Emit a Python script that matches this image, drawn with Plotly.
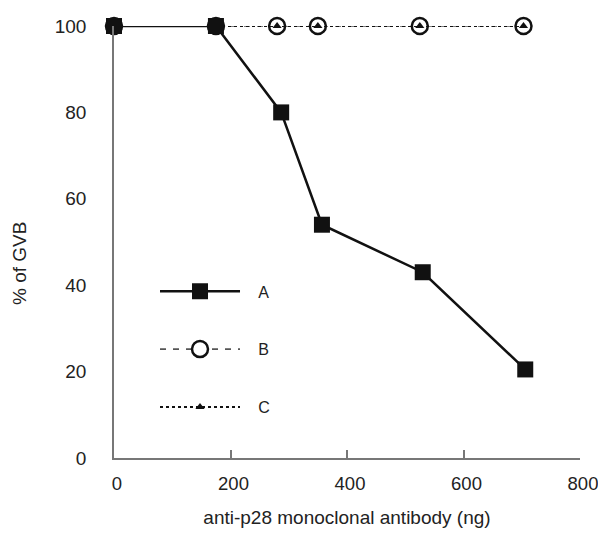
import plotly.graph_objects as go

# Data
x_a = [0, 175, 287, 357, 530, 706]
y_a = [100, 100, 80, 54, 43, 20.5]

x_b = [0, 175, 280, 350, 525, 703]
y_b = [100, 100, 100, 100, 100, 100]

x_c = [0, 175, 280, 350, 525, 703]
y_c = [100, 100, 100, 100, 100, 100]

x_ticks = [0, 200, 400, 600, 800]
y_ticks = [0, 20, 40, 60, 80, 100]

FONT = "Liberation Sans, Arial, sans-serif"
NB = "\u00a0\u00a0\u00a0"

fig = go.Figure()

fig.add_trace(go.Scatter(
    x=x_b, y=y_b, name=NB + "B", mode="lines+markers",
    line=dict(color="#555", width=1.6, dash="6px,7px"),
    marker=dict(symbol="circle", size=16, color="white",
                line=dict(color="#111", width=2.5)),
    cliponaxis=False, legendrank=2, legendgroup="B",
))
fig.add_trace(go.Scatter(
    x=x_c, y=y_c, name=NB + "C", mode="lines+markers",
    line=dict(color="#111", width=2, dash="dot"),
    marker=dict(symbol="triangle-up", size=8, color="#111"),
    cliponaxis=False, legendrank=3, legendgroup="C",
))
fig.add_trace(go.Scatter(
    x=x_a, y=y_a, name=NB + "A", mode="lines+markers",
    line=dict(color="#111", width=2.5),
    marker=dict(symbol="square", size=16, color="#111"),
    cliponaxis=False, legendrank=1, legendgroup="A",
))

fig.update_layout(
    width=598, height=536,
    margin=dict(l=114, r=18, t=26, b=78),
    paper_bgcolor="white", plot_bgcolor="white",
    font=dict(family=FONT, size=19, color="#222"),
    showlegend=True,
    legend=dict(
        x=0.088, y=0.425, xanchor="left", yanchor="top",
        itemwidth=80, tracegroupgap=34,
        bgcolor="rgba(0,0,0,0)", font=dict(size=16),
    ),
    xaxis=dict(
        range=[0, 800], tickvals=x_ticks, ticks="inside", ticklen=8,
        tickcolor="#777", tickwidth=1.5, tickfont=dict(size=18.5),
        showline=True, linecolor="#777", linewidth=1.5,
        showgrid=False, zeroline=False, ticklabelstandoff=8,
        ticklabelshift=3, ticklabeloverflow="allow", automargin=False,
        title=dict(text="anti-p28 monoclonal antibody (ng)",
                   font=dict(size=19), standoff=18),
    ),
    yaxis=dict(
        range=[0, 100], tickvals=y_ticks, ticks="",
        showline=True, linecolor="#777", linewidth=1.5,
        showgrid=False, zeroline=False, ticklabelstandoff=22,
        ticklabeloverflow="allow", automargin=False,
    ),
    annotations=[dict(
        text="% of GVB", textangle=-90, xref="paper", yref="paper",
        x=-0.203, y=0.45, xanchor="center", yanchor="middle",
        showarrow=False, font=dict(size=19),
    )],
)

# remove the default page margin so the figure fills the 598x536 window exactly
fig.write_html("out.html",
               config={"displayModeBar": False},
               post_script="document.body.style.margin='0px';"
                           "document.body.style.overflow='hidden';")
